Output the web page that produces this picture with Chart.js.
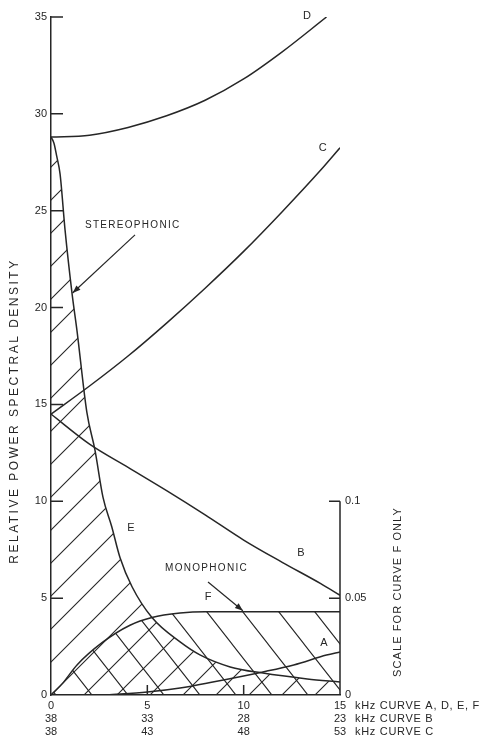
<!DOCTYPE html>
<html>
<head>
<meta charset="utf-8">
<script src="https://cdn.jsdelivr.net/npm/chart.js@4.4.1/dist/chart.umd.min.js"></script>
<style>
  html, body { margin: 0; padding: 0; background: #fff; }
  canvas { display: block; }
</style>
</head>
<body>
<canvas id="spectrum" width="482" height="740"></canvas>
<script>
// values, x in kHz (scale for curves A, D, E, F)
const freqD = [0, 2, 4, 6, 8, 10, 12, 14.3];
const densD = [28.8, 28.9, 29.3, 29.9, 30.7, 31.8, 33.2, 35.0];

const freqC = [0, 2, 4, 6, 8, 10, 12, 14, 15];
const densC = [14.5, 15.95, 17.5, 19.2, 21.0, 22.9, 24.95, 27.1, 28.25];

const freqB = [0, 2, 4, 6, 8, 10, 12, 14, 15];
const densB = [14.5, 12.95, 11.75, 10.55, 9.3, 8.0, 6.85, 5.75, 5.15];

const freqE = [0, 0.15, 0.3, 0.47, 0.73, 1.09, 1.35, 1.86, 2.28, 2.7, 3.15, 3.58, 4.2, 5.24, 6.7, 7.73, 9.3, 11, 13.3, 15];
const densE = [28.8, 28.5, 27.8, 26.9, 24.0, 20.75, 18.8, 14.6, 12.65, 10.2, 8.7, 7.1, 5.6, 4.0, 2.74, 2.07, 1.45, 1.13, 0.83, 0.67];

// curve F is on the right hand scale
const freqF = [0, 0.6, 1.35, 2.65, 4.1, 5.24, 6.7, 8, 15];
const densF = [0, 0.006, 0.0155, 0.027, 0.036, 0.040, 0.0423, 0.043, 0.043];

const freqA = [2.9, 5, 6.7, 8.4, 11, 12.6, 14.3, 15];
const densA = [0, 0.15, 0.36, 0.67, 1.19, 1.55, 2.06, 2.22];

// tick labels
const freqTicks = [0, 5, 10, 15];
const curveBTicks = ['38', '33', '28', '23'];
const curveCTicks = ['38', '43', '48', '53'];
const fScaleTicks = [0, 0.05, 0.1];
const fScaleLabels = ['0', '0.05', '0.1'];

const ink = '#262626';
const font = '"Liberation Sans", Arial, sans-serif';

const ctx = document.getElementById('spectrum').getContext('2d');

// hatch patterns ('/' for stereo area under E, '\' for mono area under F)
function hatch(w, h, dir, tx) {
    const c = document.createElement('canvas');
    c.width = w;
    c.height = h;
    const g = c.getContext('2d');
    g.strokeStyle = ink;
    g.lineWidth = 1.1;
    g.beginPath();
    for (let k = -1; k <= 1; k++) {
        if (dir === '/') {
            g.moveTo(-w, 2 * h + k * h);
            g.lineTo(2 * w, -h + k * h);
        } else {
            g.moveTo(-w, -h + k * h);
            g.lineTo(2 * w, 2 * h + k * h);
        }
    }
    g.stroke();
    const p = ctx.createPattern(c, 'repeat');
    p.setTransform(new DOMMatrix([1, 0, 0, 1, tx, 0]));
    return p;
}

function pts(xs, ys) {
    return xs.map((x, i) => ({ x: x, y: ys[i] }));
}

function curve(label, xs, ys, extra) {
    return Object.assign({
        label: label,
        data: pts(xs, ys),
        borderColor: ink,
        borderWidth: 1.5,
        pointRadius: 0,
        cubicInterpolationMode: 'monotone',
        fill: false,
        yAxisID: 'y'
    }, extra || {});
}

function arrow(c, x1, y1, x2, y2) {
    c.beginPath();
    c.moveTo(x1, y1);
    c.lineTo(x2, y2);
    c.stroke();
    const a = Math.atan2(y2 - y1, x2 - x1);
    c.beginPath();
    c.moveTo(x2, y2);
    c.lineTo(x2 - 8 * Math.cos(a) + 3 * Math.sin(a), y2 - 8 * Math.sin(a) - 3 * Math.cos(a));
    c.lineTo(x2 - 8 * Math.cos(a) - 3 * Math.sin(a), y2 - 8 * Math.sin(a) + 3 * Math.cos(a));
    c.closePath();
    c.fill();
}

const decorations = {
    id: 'decorations',
    afterDraw(chart) {
        const c = chart.ctx;
        const sx = chart.scales.x, sy = chart.scales.y, sf = chart.scales.y2;
        const area = chart.chartArea;
        const X = v => sx.getPixelForValue(v);
        const Y = v => sy.getPixelForValue(v);
        c.save();
        c.strokeStyle = ink;
        c.fillStyle = ink;
        c.lineWidth = 1.5;

        // inner tick marks
        c.beginPath();
        for (let v = 5; v <= 35; v += 5) {
            c.moveTo(area.left, Y(v));
            c.lineTo(area.left + 12, Y(v));
        }
        [5, 10].forEach(v => {
            c.moveTo(X(v), area.bottom);
            c.lineTo(X(v), area.bottom - 10);
        });
        // right scale for curve F, only drawn up to 0.1
        c.moveTo(area.right, area.bottom);
        c.lineTo(area.right, sf.getPixelForValue(0.1));
        [0.05, 0.1].forEach(v => {
            c.moveTo(area.right, sf.getPixelForValue(v));
            c.lineTo(area.right - 11, sf.getPixelForValue(v));
        });
        c.stroke();

        // axis titles
        c.textAlign = 'center';
        c.textBaseline = 'middle';
        c.font = '12px ' + font;
        c.letterSpacing = '2.5px';
        c.save();
        c.translate(15, 411);
        c.rotate(-Math.PI / 2);
        c.fillText('RELATIVE POWER SPECTRAL DENSITY', 0, 0);
        c.restore();
        c.font = '11px ' + font;
        c.letterSpacing = '1.1px';
        c.save();
        c.translate(398, 592);
        c.rotate(-Math.PI / 2);
        c.fillText('SCALE FOR CURVE F ONLY', 0, 0);
        c.restore();

        // unit labels right of the frequency ticks
        c.textAlign = 'left';
        c.font = '11px ' + font;
        c.letterSpacing = '0.7px';
        ['kHz CURVE A, D, E, F', 'kHz CURVE B', 'kHz CURVE C'].forEach((t, i) => {
            c.fillText(t, area.right + 15, area.bottom + 11 + i * 13);
        });

        // curve letters
        c.textAlign = 'center';
        c.letterSpacing = '0px';
        [['D', 13.28, 35.05], ['C', 14.1, 28.24], ['B', 12.97, 7.33],
         ['E', 4.15, 8.62], ['F', 8.15, 5.06], ['A', 14.17, 2.68]].forEach(l => {
            c.fillText(l[0], X(l[1]), Y(l[2]));
        });

        // region annotations
        c.textAlign = 'left';
        c.font = '10px ' + font;
        c.letterSpacing = '1.3px';
        c.fillText('STEREOPHONIC', X(1.76), Y(24.26));
        c.fillText('MONOPHONIC', X(5.92), Y(6.56));
        c.letterSpacing = '0px';
        c.lineWidth = 1.2;
        arrow(c, X(4.36), Y(23.75), X(1.12), Y(20.75));
        arrow(c, X(8.15), Y(5.83), X(9.96), Y(4.35));
        c.restore();
    }
};

new Chart(ctx, {
    type: 'line',
    data: {
        datasets: [
            curve('E', freqE, densE, { fill: 'origin', backgroundColor: hatch(33, 33, '/', 20) }),
            curve('F', freqF, densF, { yAxisID: 'y2', fill: 'origin', backgroundColor: hatch(36, 46, '\\', 16) }),
            curve('A', freqA, densA),
            curve('B', freqB, densB),
            curve('C', freqC, densC),
            curve('D', freqD, densD)
        ]
    },
    options: {
        responsive: false,
        animation: false,
        layout: { padding: { top: 17, left: 0, right: 0, bottom: 0 }, autoPadding: false },
        plugins: {
            legend: { display: false },
            tooltip: { enabled: false }
        },
        scales: {
            x: {
                type: 'linear',
                min: 0,
                max: 15,
                grid: { display: false, drawTicks: false },
                border: { display: true, color: ink, width: 1.5 },
                afterBuildTicks: s => { s.ticks = freqTicks.map(v => ({ value: v })); },
                afterFit: s => { s.height = 45; },
                ticks: {
                    padding: 4.5,
                    color: ink,
                    maxRotation: 0,
                    autoSkip: false,
                    font: { family: font, size: 11, lineHeight: 13 / 11 },
                    callback: (v, i) => [String(freqTicks[i]), curveBTicks[i], curveCTicks[i]]
                }
            },
            y: {
                min: 0,
                max: 35,
                grid: { display: false, drawTicks: false },
                border: { display: true, color: ink, width: 1.5 },
                afterFit: s => { s.width = 51; },
                ticks: { stepSize: 5, padding: 4, color: ink, font: { family: font, size: 11 } }
            },
            y2: {
                position: 'right',
                min: 0,
                max: 0.35,
                grid: { display: false, drawTicks: false },
                border: { display: false },
                afterBuildTicks: s => { s.ticks = fScaleTicks.map(v => ({ value: v })); },
                afterFit: s => { s.width = 142; },
                ticks: {
                    padding: 5,
                    color: ink,
                    font: { family: font, size: 11 },
                    callback: (v, i) => fScaleLabels[i]
                }
            }
        }
    },
    plugins: [decorations]
});
</script>
</body>
</html>
